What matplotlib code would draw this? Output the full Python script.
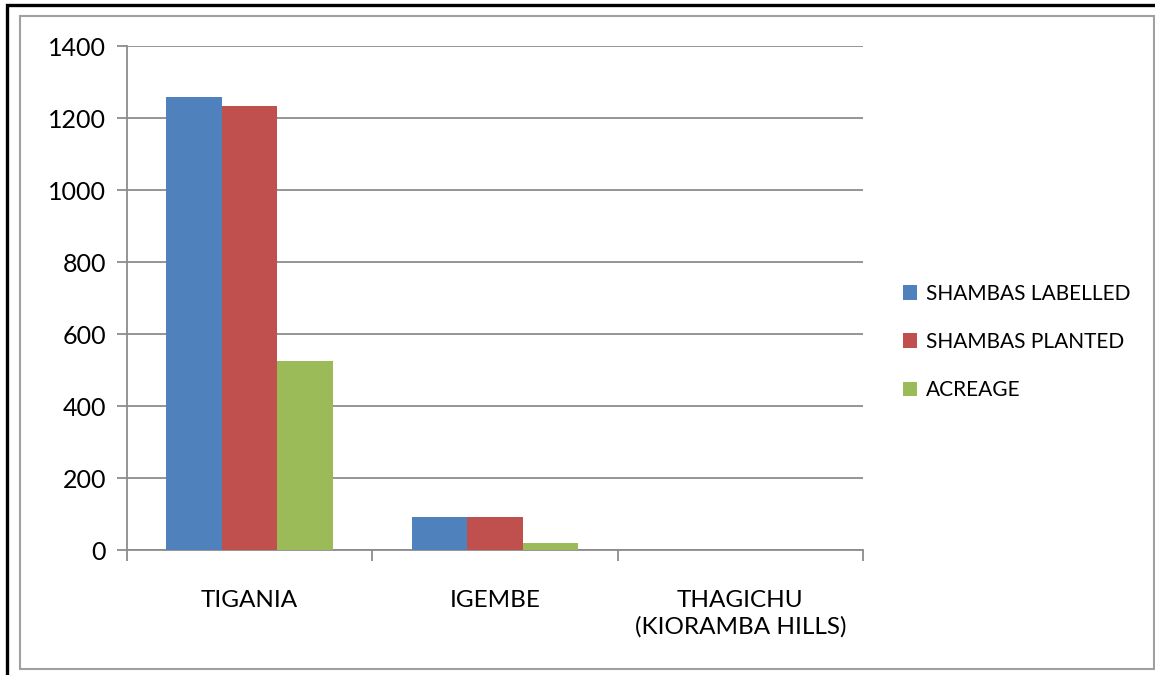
import matplotlib
matplotlib.use("Agg")
import matplotlib.pyplot as plt
import numpy as np
from matplotlib.patches import Rectangle

categories = ["TIGANIA", "IGEMBE", "THAGICHU\n(KIORAMBA HILLS)"]
labelled = [1258, 92, 0]
planted = [1234, 92, 0]
acreage = [525, 19, 0]
series_names = ["SHAMBAS LABELLED", "SHAMBAS PLANTED", "ACREAGE"]
colors = ["#4F81BD", "#C0504D", "#9BBB59"]
yticks = [0, 200, 400, 600, 800, 1000, 1200, 1400]

plt.rcParams['font.family'] = ['Lato', 'DejaVu Sans']

fig = plt.figure(figsize=(11.55, 6.75), dpi=100)

# outer black frame (runs off the right and bottom edges) and grey chart-area frame
fig.patches.append(Rectangle((7/1155, -0.05), 1.2, 1.05 - 5/675,
                             transform=fig.transFigure, fill=False,
                             edgecolor="black", linewidth=2.4))
fig.patches.append(Rectangle((19.5/1155, 1-669/675), 1134/1155, 653/675,
                             transform=fig.transFigure, fill=False,
                             edgecolor="#A0A0A0", linewidth=1.5))

ax = fig.add_axes([127/1155, 1-550/675, 736/1155, 504/675])

x = np.arange(len(categories))
w = 0.226
for i, (vals, name) in enumerate(zip([labelled, planted, acreage], series_names)):
    ax.bar(x + (i - 1) * w, vals, width=w, color=colors[i], label=name, zorder=3)

ax.set_xlim(-0.5, len(categories) - 0.5)
ax.set_ylim(0, 1400)
ax.set_yticks(yticks)
ax.set_yticklabels([str(v) for v in yticks], fontsize=18)
ax.yaxis.grid(True, color="#8C8C8C", linewidth=1.3, zorder=0)

ax.set_xticks(x)
ax.set_xticklabels(categories, fontsize=17.5, linespacing=1.25, va="top")
ax.tick_params(axis="x", length=0, pad=29)
# category boundary ticks
ax.set_xticks(np.arange(-0.5, len(categories)), minor=True)
ax.tick_params(axis="x", which="minor", length=8, width=1.3, color="#8C8C8C", direction="out")
ax.tick_params(axis="y", length=7, width=1.3, color="#8C8C8C", pad=8)

for s in ["top", "right"]:
    ax.spines[s].set_visible(False)
for s in ["left", "bottom"]:
    ax.spines[s].set_color("#8C8C8C")
    ax.spines[s].set_linewidth(1.3)

fig.legend(loc="center left", bbox_to_anchor=(884/1155, 1-342/675), frameon=False,
           fontsize=15, handlelength=0.7, handleheight=0.7, handletextpad=0.4,
           labelspacing=1.35)

fig.savefig("out.png", dpi=100)
